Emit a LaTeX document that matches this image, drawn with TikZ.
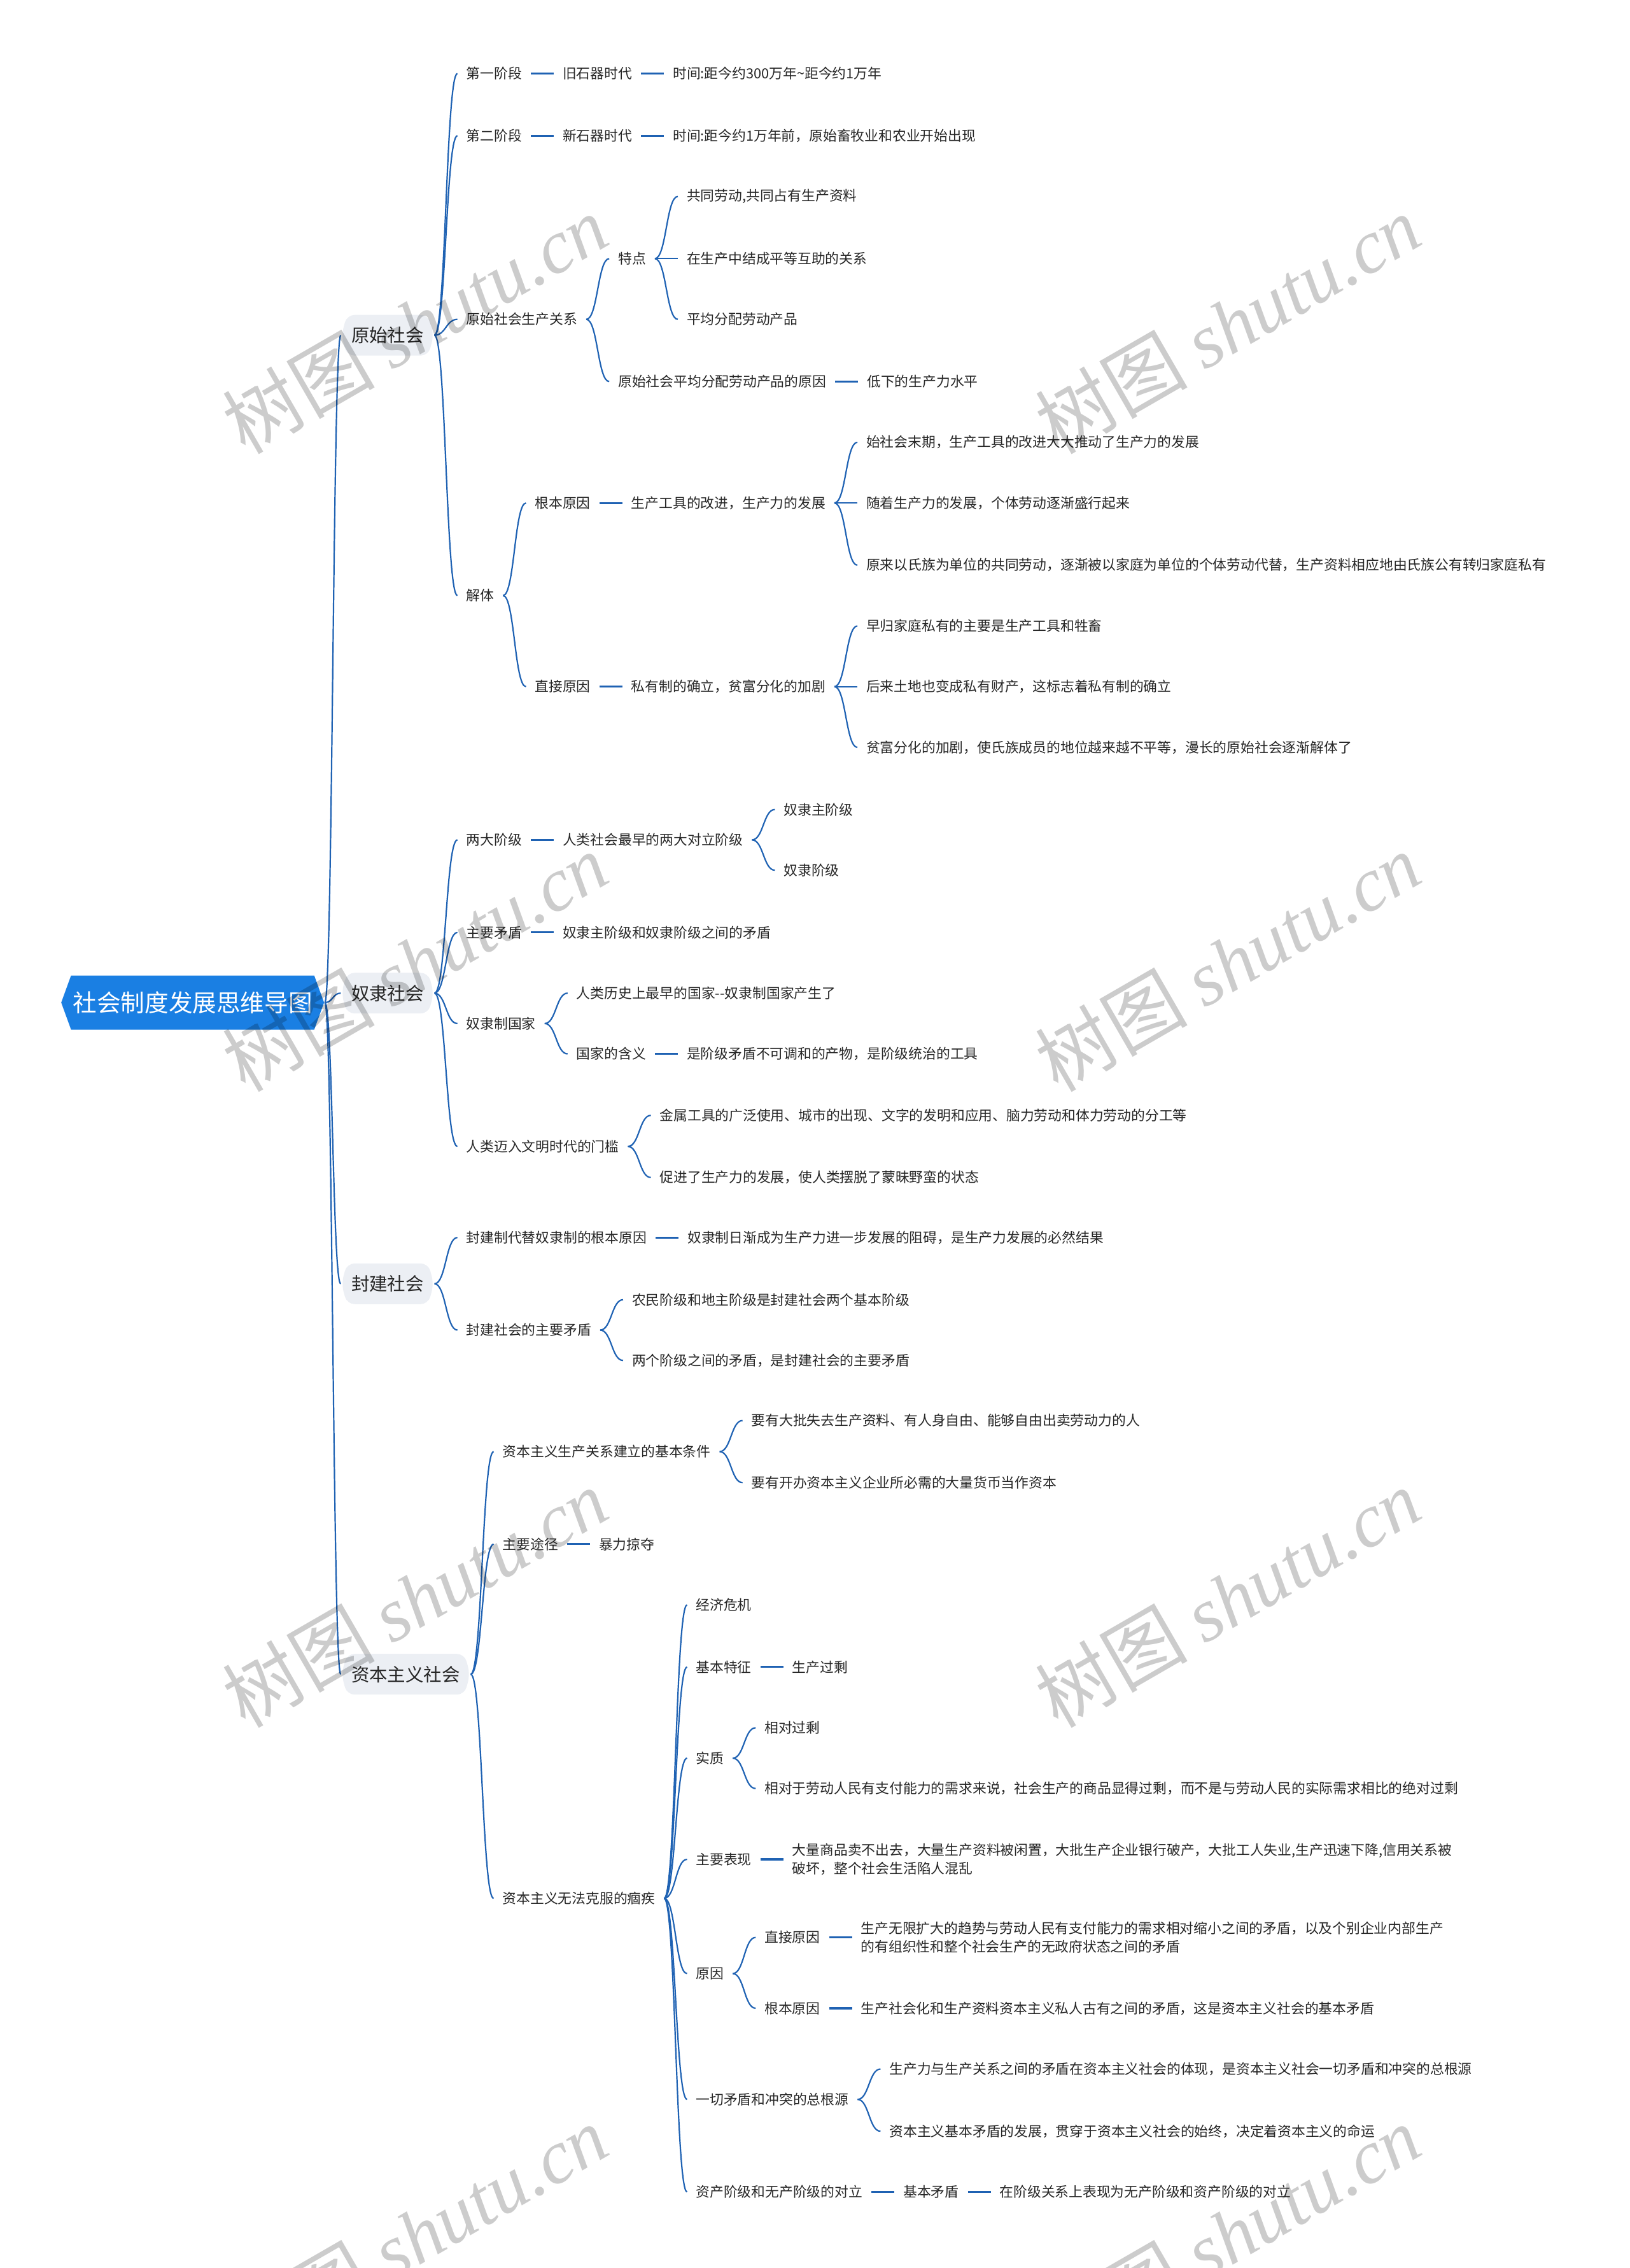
\documentclass[tikz,border=0pt]{standalone}
\usepackage{fontspec}
\setmainfont{Noto Sans CJK SC}
\newfontfamily\wmlatin{Liberation Serif}
\usetikzlibrary{positioning, shapes.symbols, calc}
\definecolor{cline}{HTML}{1F62B3}
\definecolor{croot}{HTML}{1A7FE3}
\definecolor{ctopic}{HTML}{ECEFF4}
\definecolor{ctext}{HTML}{262626}
\tikzset{
  every picture/.style={line width=0.22mm},
  root/.style={shape=signal, signal to=west and east, signal pointer angle=140, fill=croot, text=white, font=\fontsize{10.7pt}{12pt}\selectfont, minimum height=8.5mm, inner xsep=0.3mm, anchor=west},
  topic/.style={shape=signal, signal to=west and east, signal pointer angle=150, fill=ctopic, rounded corners=1.2mm, text=ctext, font=\fontsize{8.1pt}{9pt}\selectfont, minimum height=6.4mm, inner xsep=0.7mm},
  leaf/.style={text=ctext, font=\fontsize{6.2pt}{8.2pt}\selectfont, inner xsep=1.3mm, inner ysep=0.6mm, anchor=west, align=left},
  joint/.style={draw=cline, line width=0.32mm},
  branch/.style={draw=cline, line width=0.22mm, to path={.. controls ($(\tikztostart)!0.5!(\tikztotarget|-\tikztostart)$) and ($(\tikztotarget)!0.5!(\tikztostart|-\tikztotarget)$) .. (\tikztotarget)}},
  wmark/.style={rotate=30, text=black, text opacity=0.2, font=\fontsize{34pt}{34pt}\selectfont},
}

\begin{document}
\begin{tikzpicture}[x=1mm, y=1mm]
  \useasboundingbox (0,0) rectangle (256,-356.3);
  \node[root] (root) at (9.5,-157.5) {社会制度发展思维导图};
  % 原始社会
  \node[topic, right=2.5mm of root, yshift=104.83mm] (p) {原始社会};
  \node[leaf, right=3.6mm of p, yshift=41.12mm] (p1) {第一阶段};
  \node[leaf, right=3.6mm of p1] (p1a) {旧石器时代};
  \node[leaf, right=3.6mm of p1a] (p1b) {时间:距今约300万年\textasciitilde 距今约1万年};
  \node[leaf, right=3.6mm of p, yshift=31.35mm] (p2) {第二阶段};
  \node[leaf, right=3.6mm of p2] (p2a) {新石器时代};
  \node[leaf, right=3.6mm of p2a] (p2b) {时间:距今约1万年前，原始畜牧业和农业开始出现};
  \node[leaf, right=3.6mm of p, yshift=2.5mm] (p3) {原始社会生产关系};
  \node[leaf, right=3.6mm of p3, yshift=9.54mm] (p3a) {特点};
  \node[leaf, right=3.6mm of p3a, yshift=9.77mm] (p3a1) {共同劳动,共同占有生产资料};
  \node[leaf, right=3.6mm of p3a] (p3a2) {在生产中结成平等互助的关系};
  \node[leaf, right=3.6mm of p3a, yshift=-9.54mm] (p3a3) {平均分配劳动产品};
  \node[leaf, right=3.6mm of p3, yshift=-9.77mm] (p3b) {原始社会平均分配劳动产品的原因};
  \node[leaf, right=3.6mm of p3b] (p3b1) {低下的生产力水平};
  \node[leaf, right=3.6mm of p, yshift=-40.89mm] (p4) {解体};
  \node[leaf, right=3.6mm of p4, yshift=14.54mm] (p4a) {根本原因};
  \node[leaf, right=3.6mm of p4a] (p4a0) {生产工具的改进，生产力的发展};
  \node[leaf, right=3.6mm of p4a0, yshift=9.54mm] (p4a1) {始社会末期，生产工具的改进大大推动了生产力的发展};
  \node[leaf, right=3.6mm of p4a0] (p4a2) {随着生产力的发展，个体劳动逐渐盛行起来};
  \node[leaf, right=3.6mm of p4a0, yshift=-9.77mm] (p4a3) {原来以氏族为单位的共同劳动，逐渐被以家庭为单位的个体劳动代替，生产资料相应地由氏族公有转归家庭私有};
  \node[leaf, right=3.6mm of p4, yshift=-14.31mm] (p4b) {直接原因};
  \node[leaf, right=3.6mm of p4b] (p4b0) {私有制的确立，贫富分化的加剧};
  \node[leaf, right=3.6mm of p4b0, yshift=9.54mm] (p4b1) {早归家庭私有的主要是生产工具和牲畜};
  \node[leaf, right=3.6mm of p4b0] (p4b2) {后来土地也变成私有财产，这标志着私有制的确立};
  \node[leaf, right=3.6mm of p4b0, yshift=-9.54mm] (p4b3) {贫富分化的加剧，使氏族成员的地位越来越不平等，漫长的原始社会逐渐解体了};
  % 奴隶社会
  \node[topic, right=2.5mm of root, yshift=1.48mm] (s) {奴隶社会};
  \node[leaf, right=3.6mm of s, yshift=24.08mm] (s1) {两大阶级};
  \node[leaf, right=3.6mm of s1] (s1a) {人类社会最早的两大对立阶级};
  \node[leaf, right=3.6mm of s1a, yshift=4.77mm] (s1a1) {奴隶主阶级};
  \node[leaf, right=3.6mm of s1a, yshift=-4.77mm] (s1a2) {奴隶阶级};
  \node[leaf, right=3.6mm of s, yshift=9.54mm] (s2) {主要矛盾};
  \node[leaf, right=3.6mm of s2] (s2a) {奴隶主阶级和奴隶阶级之间的矛盾};
  \node[leaf, right=3.6mm of s, yshift=-4.77mm] (s3) {奴隶制国家};
  \node[leaf, right=3.6mm of s3, yshift=4.77mm] (s3a) {人类历史上最早的国家-{}-奴隶制国家产生了};
  \node[leaf, right=3.6mm of s3, yshift=-4.77mm] (s3b) {国家的含义};
  \node[leaf, right=3.6mm of s3b] (s3b1) {是阶级矛盾不可调和的产物，是阶级统治的工具};
  \node[leaf, right=3.6mm of s, yshift=-24.08mm] (s4) {人类迈入文明时代的门槛};
  \node[leaf, right=3.6mm of s4, yshift=4.88mm] (s4a) {金属工具的广泛使用、城市的出现、文字的发明和应用、脑力劳动和体力劳动的分工等};
  \node[leaf, right=3.6mm of s4, yshift=-4.88mm] (s4b) {促进了生产力的发展，使人类摆脱了蒙昧野蛮的状态};
  % 封建社会
  \node[topic, right=2.5mm of root, yshift=-44.18mm] (f) {封建社会};
  \node[leaf, right=3.6mm of f, yshift=7.27mm] (f1) {封建制代替奴隶制的根本原因};
  \node[leaf, right=3.6mm of f1] (f1a) {奴隶制日渐成为生产力进一步发展的阻碍，是生产力发展的必然结果};
  \node[leaf, right=3.6mm of f, yshift=-7.27mm] (f2) {封建社会的主要矛盾};
  \node[leaf, right=3.6mm of f2, yshift=4.77mm] (f2a) {农民阶级和地主阶级是封建社会两个基本阶级};
  \node[leaf, right=3.6mm of f2, yshift=-4.77mm] (f2b) {两个阶级之间的矛盾，是封建社会的主要矛盾};
  % 资本主义社会
  \node[topic, right=2.5mm of root, yshift=-105.52mm] (c) {资本主义社会};
  \node[leaf, right=3.6mm of c, yshift=34.98mm] (c1) {资本主义生产关系建立的基本条件};
  \node[leaf, right=3.6mm of c1, yshift=4.88mm] (c1a) {要有大批失去生产资料、有人身自由、能够自由出卖劳动力的人};
  \node[leaf, right=3.6mm of c1, yshift=-4.88mm] (c1b) {要有开办资本主义企业所必需的大量货币当作资本};
  \node[leaf, right=3.6mm of c, yshift=20.44mm] (c2) {主要途径};
  \node[leaf, right=3.6mm of c2] (c2a) {暴力掠夺};
  \node[leaf, right=3.6mm of c, yshift=-35.21mm] (c3) {资本主义无法克服的痼疾};
  \node[leaf, right=3.6mm of c3, yshift=46.11mm] (c3a) {经济危机};
  \node[leaf, right=3.6mm of c3, yshift=36.35mm] (c3b) {基本特征};
  \node[leaf, right=3.6mm of c3b] (c3b1) {生产过剩};
  \node[leaf, right=3.6mm of c3, yshift=22.03mm] (c3c) {实质};
  \node[leaf, right=3.6mm of c3c, yshift=4.77mm] (c3c1) {相对过剩};
  \node[leaf, right=3.6mm of c3c, yshift=-4.77mm] (c3c2) {相对于劳动人民有支付能力的需求来说，社会生产的商品显得过剩，而不是与劳动人民的实际需求相比的绝对过剩};
  \node[leaf, right=3.6mm of c3, yshift=6.13mm] (c3d) {主要表现};
  \node[leaf, right=3.6mm of c3d] (c3d1) {大量商品卖不出去，大量生产资料被闲置，大批生产企业银行破产，大批工人失业,生产迅速下降,信用关系被\\破坏，整个社会生活陷人混乱};
  \node[leaf, right=3.6mm of c3, yshift=-11.81mm] (c3e) {原因};
  \node[leaf, right=3.6mm of c3e, yshift=5.68mm] (c3e1) {直接原因};
  \node[leaf, right=3.6mm of c3e1] (c3e1a) {生产无限扩大的趋势与劳动人民有支付能力的需求相对缩小之间的矛盾，以及个别企业内部生产\\的有组织性和整个社会生产的无政府状态之间的矛盾};
  \node[leaf, right=3.6mm of c3e, yshift=-5.45mm] (c3e2) {根本原因};
  \node[leaf, right=3.6mm of c3e2] (c3e2a) {生产社会化和生产资料资本主义私人古有之间的矛盾，这是资本主义社会的基本矛盾};
  \node[leaf, right=3.6mm of c3, yshift=-31.58mm] (c3f) {一切矛盾和冲突的总根源};
  \node[leaf, right=3.6mm of c3f, yshift=4.77mm] (c3f1) {生产力与生产关系之间的矛盾在资本主义社会的体现，是资本主义社会一切矛盾和冲突的总根源};
  \node[leaf, right=3.6mm of c3f, yshift=-5mm] (c3f2) {资本主义基本矛盾的发展，贯穿于资本主义社会的始终，决定着资本主义的命运};
  \node[leaf, right=3.6mm of c3, yshift=-46.11mm] (c3g) {资产阶级和无产阶级的对立};
  \node[leaf, right=3.6mm of c3g] (c3g1) {基本矛盾};
  \node[leaf, right=3.6mm of c3g1] (c3g2) {在阶级关系上表现为无产阶级和资产阶级的对立};

  % connectors
  \draw[branch] (root.east) to (p.west); \draw[branch] (root.east) to (s.west); \draw[branch] (root.east) to (f.west); \draw[branch] (root.east) to (c.west);
  \draw[branch] (p.east) to (p1.west); \draw[branch] (p.east) to (p2.west); \draw[branch] (p.east) to (p3.west); \draw[branch] (p.east) to (p4.west);
  \draw[joint] (p1.east) -- (p1a.west); \draw[joint] (p1a.east) -- (p1b.west);
  \draw[joint] (p2.east) -- (p2a.west); \draw[joint] (p2a.east) -- (p2b.west);
  \draw[branch] (p3.east) to (p3a.west); \draw[branch] (p3.east) to (p3b.west); \draw[joint] (p3b.east) -- (p3b1.west);
  \draw[branch] (p3a.east) to (p3a1.west); \draw[branch] (p3a.east) to (p3a2.west); \draw[branch] (p3a.east) to (p3a3.west);
  \draw[branch] (p4.east) to (p4a.west); \draw[branch] (p4.east) to (p4b.west);
  \draw[joint] (p4a.east) -- (p4a0.west); \draw[joint] (p4b.east) -- (p4b0.west);
  \draw[branch] (p4a0.east) to (p4a1.west); \draw[branch] (p4a0.east) to (p4a2.west); \draw[branch] (p4a0.east) to (p4a3.west);
  \draw[branch] (p4b0.east) to (p4b1.west); \draw[branch] (p4b0.east) to (p4b2.west); \draw[branch] (p4b0.east) to (p4b3.west);
  \draw[branch] (s.east) to (s1.west); \draw[branch] (s.east) to (s2.west); \draw[branch] (s.east) to (s3.west); \draw[branch] (s.east) to (s4.west);
  \draw[joint] (s1.east) -- (s1a.west); \draw[branch] (s1a.east) to (s1a1.west); \draw[branch] (s1a.east) to (s1a2.west);
  \draw[joint] (s2.east) -- (s2a.west);
  \draw[branch] (s3.east) to (s3a.west); \draw[branch] (s3.east) to (s3b.west); \draw[joint] (s3b.east) -- (s3b1.west);
  \draw[branch] (s4.east) to (s4a.west); \draw[branch] (s4.east) to (s4b.west);
  \draw[branch] (f.east) to (f1.west); \draw[branch] (f.east) to (f2.west); \draw[joint] (f1.east) -- (f1a.west);
  \draw[branch] (f2.east) to (f2a.west); \draw[branch] (f2.east) to (f2b.west);
  \draw[branch] (c.east) to (c1.west); \draw[branch] (c.east) to (c2.west); \draw[branch] (c.east) to (c3.west);
  \draw[branch] (c1.east) to (c1a.west); \draw[branch] (c1.east) to (c1b.west); \draw[joint] (c2.east) -- (c2a.west);
  \draw[branch] (c3.east) to (c3a.west); \draw[branch] (c3.east) to (c3b.west); \draw[branch] (c3.east) to (c3c.west); \draw[branch] (c3.east) to (c3d.west);
  \draw[branch] (c3.east) to (c3e.west); \draw[branch] (c3.east) to (c3f.west); \draw[branch] (c3.east) to (c3g.west);
  \draw[joint] (c3b.east) -- (c3b1.west);
  \draw[branch] (c3c.east) to (c3c1.west); \draw[branch] (c3c.east) to (c3c2.west);
  \draw[joint] (c3d.east) -- (c3d1.west);
  \draw[branch] (c3e.east) to (c3e1.west); \draw[branch] (c3e.east) to (c3e2.west);
  \draw[joint] (c3e1.east) -- (c3e1a.west); \draw[joint] (c3e2.east) -- (c3e2a.west);
  \draw[branch] (c3f.east) to (c3f1.west); \draw[branch] (c3f.east) to (c3f2.west);
  \draw[joint] (c3g.east) -- (c3g1.west); \draw[joint] (c3g1.east) -- (c3g2.west);

  % watermark
  \begin{scope}
    \clip (0,0) rectangle (256,-356.3);
    \node[wmark] (wm1) at (65.2,-50.9) {树图 {\wmlatin\itshape shutu.cn}};
    \node[wmark] (wm2) at (192.9,-50.9) {树图 {\wmlatin\itshape shutu.cn}};
    \node[wmark] (wm3) at (65.2,-151.1) {树图 {\wmlatin\itshape shutu.cn}};
    \node[wmark] (wm4) at (192.9,-151.1) {树图 {\wmlatin\itshape shutu.cn}};
    \node[wmark] (wm5) at (65.2,-251) {树图 {\wmlatin\itshape shutu.cn}};
    \node[wmark] (wm6) at (192.9,-251) {树图 {\wmlatin\itshape shutu.cn}};
    \node[wmark] (wm7) at (65.2,-351) {树图 {\wmlatin\itshape shutu.cn}};
    \node[wmark] (wm8) at (192.9,-351) {树图 {\wmlatin\itshape shutu.cn}};
  \end{scope}
\end{tikzpicture}
\end{document}
